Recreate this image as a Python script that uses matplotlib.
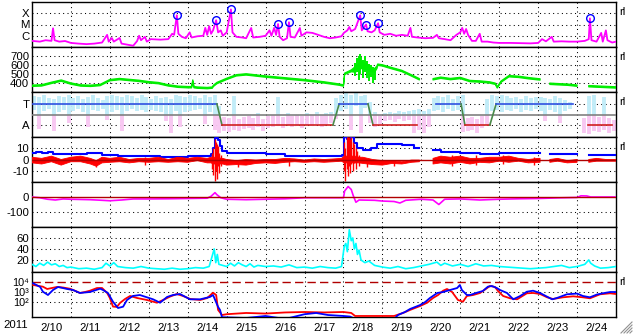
import numpy as np
import matplotlib
matplotlib.use('Agg')
import matplotlib.pyplot as plt
from matplotlib.lines import Line2D

plt.rcParams['font.family'] = ['Liberation Sans', 'DejaVu Sans']
nan = np.nan

# ---------------- data (time in days since 2011-02-10 00:00 UT) ----------------
day_labels = ['2/10', '2/11', '2/12', '2/13', '2/14', '2/15', '2/16', '2/17',
              '2/18', '2/19', '2/20', '2/21', '2/22', '2/23', '2/24']

# GOES X-ray flux (W/m^2)
xr_day = [0.00, 0.20, 0.35, 0.50, 0.54, 0.58, 0.70, 0.85, 1.00, 1.20, 1.40, 1.60, 1.80, 1.93, 1.97,
          2.05, 2.10, 2.25, 2.30, 2.50, 2.60, 2.70, 2.75, 2.80, 2.90, 2.95, 3.05, 3.30, 3.50, 3.60,
          3.65, 3.72, 3.76, 3.85, 3.95, 4.05, 4.10, 4.25, 4.40, 4.45, 4.50, 4.55, 4.60, 4.65, 4.73,
          4.78, 4.85, 4.90, 5.00, 5.11, 5.15, 5.25, 5.40, 5.50, 5.63, 5.68, 5.85, 6.00, 6.10, 6.15,
          6.22, 6.27, 6.32, 6.36, 6.45, 6.55, 6.60, 6.64, 6.75, 6.88, 6.92, 7.05, 7.20, 7.35, 7.50,
          7.65, 7.80, 7.95, 8.01, 8.10, 8.15, 8.20, 8.30, 8.43, 8.47, 8.52, 8.58, 8.62, 8.72, 8.80,
          8.89, 8.93, 9.05, 9.20, 9.35, 9.50, 9.65, 9.72, 9.76, 9.90, 10.10, 10.30, 10.40, 10.45, 10.60,
          10.75, 10.90, 11.00, 11.05, 11.10, 11.15, 11.20, 11.30, 11.40, 11.50, 11.55, 11.70, 11.85, 12.00,
          12.30, 12.60, 12.80, 13.00, 13.10, 13.20, 13.35, 13.40, 13.60, 13.80, 14.00, 14.20, 14.30, 14.33,
          14.37, 14.50, 14.62, 14.66, 14.74, 14.78, 14.90, 15.00]
xr_flux = [3.5e-7, 3.0e-7, 4.0e-7, 3.5e-7, 4.6e-6, 4.0e-7, 3.0e-7, 3.4e-7, 2.3e-7, 2.0e-7, 1.8e-7, 2.0e-7, 2.5e-7, 1.2e-6, 3.0e-7,
           6.3e-7, 3.0e-7, 6.3e-7, 2.0e-7, 1.5e-7, 1.3e-7, 3.4e-7, 1.0e-6, 4.0e-7, 8.0e-7, 3.0e-7, 5.0e-7, 4.5e-7, 5.0e-7, 1.5e-6,
           1.2e-6, 6.6e-5, 1.5e-6, 8.0e-7, 6.0e-7, 2.0e-6, 7.0e-7, 9.0e-7, 1.0e-6, 5.0e-6, 1.2e-6, 7.0e-6, 1.5e-6, 3.0e-6, 2.4e-5,
           2.0e-6, 3.0e-6, 1.0e-6, 2.0e-6, 2.2e-4, 2.0e-6, 8.0e-7, 7.0e-7, 6.0e-7, 4.9e-6, 7.0e-7, 8.0e-7, 1.0e-6, 3.0e-6, 1.0e-6,
           5.0e-6, 1.2e-6, 1.1e-5, 8.0e-7, 4.0e-7, 6.0e-7, 1.6e-5, 8.0e-7, 7.0e-7, 4.9e-6, 1.0e-6, 2.0e-6, 1.8e-6, 1.2e-6, 8.0e-7,
           6.0e-7, 7.0e-7, 9.0e-7, 1.8e-6, 3.0e-6, 6.0e-6, 2.5e-6, 4.0e-6, 6.6e-5, 3.0e-6, 5.0e-6, 1.0e-5, 2.5e-6, 2.0e-6, 3.0e-6,
           1.3e-5, 2.0e-6, 1.2e-6, 1.5e-6, 1.0e-6, 1.2e-6, 1.0e-6, 5.0e-6, 8.0e-7, 7.0e-7, 6.0e-7, 6.5e-7, 1.2e-6, 6.0e-7, 5.0e-7,
           4.0e-7, 1.2e-6, 2.0e-6, 5.0e-6, 1.5e-6, 4.0e-6, 1.2e-6, 3.5e-7, 3.5e-7, 1.5e-6, 3.0e-7, 3.0e-7, 2.5e-7, 2.3e-7,
           2.3e-7, 2.2e-7, 2.1e-7, 2.3e-7, 5.0e-7, 3.2e-7, 8.0e-7, 3.0e-7, 3.2e-7, 3.0e-7, 3.0e-7, 3.5e-7, 5.0e-7, 3.5e-5,
           4.0e-7, 3.0e-7, 1.8e-6, 3.0e-7, 3.0e-6, 4.0e-7, 2.5e-7, 3.0e-7]

# flares marked with circles
flare_day = [3.72, 4.73, 5.11, 6.32, 6.60, 8.43, 8.58, 8.89, 14.33]
flare_flux = [6.6e-5, 2.4e-5, 2.2e-4, 1.1e-5, 1.6e-5, 6.6e-5, 1.0e-5, 1.3e-5, 3.5e-5]

# solar wind speed (km/s): band low / high
sw_day = [0.0, 0.25, 0.5, 0.75, 1.0, 1.25, 1.5, 1.75, 2.0, 2.25, 2.5, 2.75, 3.0, 3.25, 3.5, 3.75, 4.0,
          4.1, 4.13, 4.16, 4.25, 4.5, 4.63, 4.66, 4.75, 5.0, 5.25, 5.5, 5.75, 6.0, 6.5, 7.0, 7.5, 7.9,
          8.0, 8.03, 8.2, 8.3, 8.4, 8.45, 8.5, 8.6, 8.7, 8.8, 8.86, 8.88, 9.0, 9.25, 9.5, 9.75, 9.95,
          9.96, 10.29, 10.3, 10.5, 10.75, 11.0, 11.25, 11.5, 11.75, 11.9, 11.95, 12.05, 12.25, 12.5, 12.75,
          13.0, 13.05, 13.06, 13.29, 13.3, 13.5, 13.75, 14.0, 14.01, 14.29, 14.3, 14.5, 14.75, 15.0]
sw_lo = [362, 366, 394, 419, 386, 365, 361, 370, 424, 436, 426, 416, 401, 391, 366, 351, 346,
         346, 420, 346, 341, 336, 341, 361, 392, 438, 478, 488, 476, 464, 444, 424, 399, 374,
         364, 495, 525, 520, 540, 560, 560, 540, 530, 520, 560, 596, 588, 556, 526, 476, 434,
         nan, nan, 434, 451, 436, 448, 414, 409, 399, 384, 344, 408, 468, 461, 446,
         434, 432, nan, nan, 384, 379, 374, 363, nan, nan, 357, 353, 348, 343]
sw_hi = [377, 381, 409, 434, 401, 380, 376, 385, 439, 451, 441, 431, 416, 406, 381, 366, 361,
         361, 435, 361, 356, 351, 356, 376, 407, 453, 493, 503, 491, 479, 459, 439, 414, 389,
         379, 510, 545, 580, 620, 640, 630, 610, 580, 560, 590, 611, 603, 571, 541, 491, 449,
         nan, nan, 449, 466, 451, 463, 429, 424, 414, 399, 359, 423, 483, 476, 461,
         449, 447, nan, nan, 399, 394, 389, 378, nan, nan, 372, 368, 363, 358]
# spiky excursions of the speed during the shock passage
sw_sp_day = [8.30, 8.35, 8.40, 8.43, 8.46, 8.50, 8.55, 8.60, 8.65, 8.70, 8.75, 8.80]
sw_sp_lo = [480, 520, 430, 500, 560, 450, 520, 460, 420, 470, 400, 430]
sw_sp_hi = [620, 680, 700, 720, 690, 650, 700, 640, 610, 600, 580, 560]

# IMF sector polarity (T = +1, A = -1)
sec_start = [0.0, 4.88, 7.89, 8.76, 10.38, 11.12, 11.92, 14.28]
sec_end = [4.75, 7.73, 8.63, 9.89, 11.02, 11.76, 13.90, 14.90]
sec_pol = [1, -1, 1, -1, 1, -1, 1, -1]

# IMF direction cloud, 3-hour bins (lo, hi in sector units)
imf_lo = [0.4, -1.4, 0.3, 0.5, -1.6, 0.2, 0.4, -0.8,
          0.3, 0.5, 0.2, -1.2, 0.4, 0.3, 0.5, -0.5,
          0.2, 0.4, -1.6, 0.3, 0.5, 0.3, 0.4, 0.2,
          0.4, 0.3, 0.2, -0.6, -1.8, 0.3, -1.2, 0.2,
          0.3, 0.4, 0.5, -0.9, 0.2, -1.5, -1.8, -1.6,
          -1.7, -1.5, -1.6, -1.4, -1.3, -1.5, -1.2, -1.6,
          -1.3, -1.2, -1.1, -1.3, -1.0, -1.2, -1.1, -1.3,
          -1.0, -1.1, -0.9, -1.2, -1.0, -0.8, -0.4, 0.3,
          0.5, -1.5, 0.8, -1.8, 0.6, -0.8, -1.2, -0.9,
          -0.6, -0.5, -0.7, -0.4, -0.6, -0.5, -1.8, -1.5,
          -1.8, -1.2, 0.3, 0.4, 0.2, 0.5, 0.3, 0.4,
          -1.7, -1.6, -1.5, -1.8, -1.3, -1.0, 0.3, 0.4,
          0.2, 0.4, 0.3, 0.5, 0.2, 0.4, 0.3, 0.5,
          0.3, -0.6, 0.4, 0.2, -0.8, 0.3, 0.5, nan,
          nan, -1.8, -1.9, -1.6, -1.7, -1.5, -1.8, -1.6]
imf_hi = [1.8, 1.7, 1.9, 1.6, 1.5, 1.8, 1.7, 1.9,
          1.6, 1.8, 1.5, 1.7, 1.9, 1.6, 1.4, 1.8,
          1.9, 1.8, 1.7, 1.9, 1.8, 1.6, 1.9, 1.7,
          1.5, 1.8, 1.6, 1.7, 1.5, 1.9, 1.8, 1.7,
          1.9, 1.8, 1.6, 1.9, 1.7, 1.9, 0.8, -0.2,
          -0.3, 1.8, -0.4, -0.2, -0.1, -0.3, 0.1, -0.4,
          -0.1, 0.0, 1.7, -0.2, 0.1, -0.1, 0.0, -0.1,
          0.1, 0.0, 0.2, 0.0, 0.1, 0.2, 1.6, 1.9,
          2.0, 1.9, 2.0, 1.8, 1.9, 1.2, 0.2, 0.0,
          0.1, 0.2, 0.1, 0.3, 0.2, 0.3, 0.4, 0.5,
          0.3, 0.5, 1.6, 1.8, 1.7, 1.9, 1.5, 1.8,
          1.9, -0.3, -0.2, -0.4, -0.1, 1.5, 1.9, 1.8,
          1.9, 1.8, 1.6, 1.7, 1.5, 1.8, 1.6, 1.7,
          1.7, 1.6, 1.5, 1.8, 1.6, 1.4, 1.2, nan,
          nan, -0.3, 1.8, 1.9, -0.2, 1.7, -0.3, -0.5]

# IMF Bt (nT)
bt_day = [0.0, 0.1, 0.25, 0.4, 0.55, 1.0, 1.4, 1.8, 2.2, 2.6, 3.0, 3.3, 3.8, 4.0, 4.5, 4.6, 4.65, 4.7,
          4.78, 4.82, 4.88, 5.0, 5.5, 6.0, 6.5, 7.0, 7.5, 7.95, 8.02, 8.1, 8.2, 8.28, 8.35, 8.5, 8.7,
          8.85, 9.0, 9.5, 9.8, 9.95, 10.3, 10.5, 11.0, 11.5, 12.0, 12.5, 13.0, 13.05, 13.3, 14.0, 14.3, 15.0]
bt_val = [5.5, 6.5, 6.0, 6.5, 5.0, 4.5, 5.5, 4.0, 3.5, 3.0, 3.0, 2.2, 2.5, 3.0, 3.5, 5.0, 10.0, 19.0,
          17.0, 12.0, 8.0, 6.0, 6.0, 5.0, 3.5, 3.0, 3.0, 4.0, 20.0, 18.0, 20.0, 15.0, 10.0, 8.5, 10.0,
          13.5, 14.0, 12.5, 10.0, nan, 8.5, 6.5, 5.5, 5.0, 5.5, 6.0, 5.5, nan, 5.0, nan, 4.0, 4.0]

# IMF Bz (nT): band low / high
bz_day = [0.0, 0.25, 0.5, 0.75, 1.0, 1.25, 1.5, 1.65, 1.8, 2.0, 2.25, 2.5, 2.75, 3.0, 3.25, 3.5, 3.75,
          4.0, 4.25, 4.5, 4.6, 4.65, 4.7, 4.75, 4.8, 4.85, 4.9, 5.0, 5.25, 5.5, 5.75, 6.0, 6.25, 6.5,
          6.75, 7.0, 7.25, 7.5, 7.75, 7.95, 8.02, 8.1, 8.2, 8.3, 8.4, 8.5, 8.75, 9.0, 9.25, 9.5, 9.75,
          9.95, 9.96, 10.29, 10.3, 10.5, 10.75, 11.0, 11.25, 11.5, 11.75, 12.0, 12.25, 12.5, 12.75, 13.0,
          13.05, 13.06, 13.29, 13.3, 13.5, 13.75, 14.0, 14.01, 14.29, 14.3, 14.5, 14.75, 15.0]
bz_lo = [-3, -4, -2, -5, -2, -2, -4, -6, -3, -2.5, -2, -3, -2, -2.5, -2, -2.5, -2,
         -2.5, -1, -3, -3, -4, -4, -4, -4, -4, -4, -5, -4.5, -5, -3.5, -3, -3.5, -2.5,
         -2, -2.5, -2, -2.5, -2, -1.5, -3, -3, -3, -3, -3, -3.5, -4.5, -5, -3.5, -4, -2.5,
         -2, nan, nan, -4, -3, -4, -2.5, -4, -2.5, -3, -1.5, -2.5, -1.5, -3, -2.5,
         -2.5, nan, nan, -2.5, -1.5, -3, -2.5, nan, nan, -2.5, -1.5, -1.5, -1.5]
bz_hi = [2, 1, 3, 0, 2, 3, 1, -1, 2, 1, 2, 0, 1, 1, 2, 0, 2,
         1, 2, 1, 2, 2, 2, 2, 2, 1, 1, 0, -1, 0, -0.5, 0, 0, 1,
         0.5, -0.5, 0.5, 0, 0.5, 1, 3, 3, 3, 3, 2, 2, 0, -1, -1, -2, -0.5,
         -0.5, nan, nan, 1, 3, 2, 3, 1, 1, 2, 2, 3, 1, 0, 1,
         1, nan, nan, 0, 1, -1, 0, nan, nan, 0, 1, 0, 0]
# Bz excursions (spikes)
bz_sp_day = [1.65, 2.9, 4.62, 4.66, 4.69, 4.72, 4.75, 4.78, 4.81, 4.85, 5.3, 6.6,
             8.02, 8.05, 8.08, 8.11, 8.14, 8.17, 8.20, 8.24, 8.28, 8.32, 8.36, 8.40,
             8.6, 9.3, 10.8, 11.4, 12.1, 12.9]
bz_sp_lo = [-7, -5, -8, -14, -19, -10, -17, -6, -12, -6, -7, -6,
            -10, -19, -8, -15, -6, -12, -4, -10, -3, -8, -2, -6,
            -7, -6, -6, -5, -4, -5]
bz_sp_hi = [0, 2, 6, 10, 18, 16, 14, 12, 6, 4, 0, 1,
            16, 10, 20, 20, 20, 18, 20, 16, 14, 10, 8, 4,
            0, 0, 4, 4, 4, 2]

# Dst-like index (nT)
dst_day = [0.0, 0.2, 0.4, 0.6, 0.8, 1.0, 1.5, 1.8, 2.0, 2.3, 2.6, 3.0, 3.5, 4.0, 4.5, 4.6, 4.7, 4.75,
           4.85, 5.0, 5.5, 6.0, 6.5, 7.0, 7.5, 8.0, 8.03, 8.12, 8.2, 8.25, 8.32, 8.4, 8.8, 9.0, 9.3,
           9.45, 9.6, 10.0, 10.3, 10.45, 10.6, 11.0, 11.5, 12.0, 12.5, 13.0, 13.5, 14.0, 14.1, 14.25,
           14.35, 15.0]
dst_val = [0, -5, -15, -20, -13, -15, -18, -22, -25, -20, -13, -13, -12, -10, -8, 5, 29, 15,
           -5, -15, -18, -15, -12, -5, -5, -5, 40, 70, 50, 10, -35, -20, -22, -27, -30,
           -40, -22, -15, -20, -50, -15, -13, -20, -15, -12, -10, -6, -3, 8, 7,
           0, 0]

# cyan index
cy_day = [0.0, 0.1, 0.2, 0.3, 0.4, 0.5, 0.6, 0.7, 0.8, 0.9, 1.0, 1.2, 1.4, 1.6, 1.8, 1.9, 2.0, 2.1,
          2.2, 2.4, 2.6, 2.8, 3.0, 3.2, 3.4, 3.6, 3.8, 4.0, 4.2, 4.4, 4.55, 4.62, 4.68, 4.72, 4.76,
          4.8, 4.9, 5.0, 5.1, 5.2, 5.3, 5.4, 5.5, 5.6, 5.7, 5.8, 6.0, 6.2, 6.4, 6.6, 6.8, 7.0, 7.2,
          7.4, 7.6, 7.8, 7.95, 8.02, 8.06, 8.1, 8.15, 8.2, 8.24, 8.28, 8.32, 8.36, 8.4, 8.45, 8.55,
          8.65, 8.8, 9.0, 9.2, 9.4, 9.6, 9.8, 10.0, 10.2, 10.4, 10.5, 10.6, 10.8, 11.0, 11.2, 11.4,
          11.6, 11.8, 12.0, 12.2, 12.4, 12.6, 12.8, 13.0, 13.2, 13.4, 13.6, 13.8, 14.0, 14.2, 14.3,
          14.35, 14.45, 14.6, 14.8, 15.0]
cy_val = [12, 8, 14, 10, 16, 11, 13, 8, 10, 6, 7, 4, 5, 3, 6, 14, 9, 15,
          8, 6, 5, 8, 5, 4, 3, 5, 3, 4, 6, 5, 8, 25, 40, 15, 30,
          12, 10, 8, 14, 9, 15, 11, 8, 13, 7, 10, 8, 9, 7, 11, 6, 7, 5,
          8, 6, 5, 8, 45, 50, 35, 75, 55, 60, 40, 50, 30, 38, 20, 15,
          18, 10, 7, 5, 8, 4, 6, 9, 12, 16, 10, 14, 9, 12, 8, 13,
          9, 10, 8, 7, 6, 5, 4, 5, 6, 8, 10, 6, 8, 12, 20,
          14, 9, 5, 6, 8]

# energetic electron flux, two satellites
el_red_day = [0.03, 0.28, 0.39, 0.51, 0.64, 0.80, 0.98, 1.16, 1.23, 1.36, 1.49, 1.67, 1.80, 1.93, 2.0,
              2.08, 2.18, 2.26, 2.39, 2.52, 2.70, 2.95, 3.21, 3.37, 3.54, 3.72, 3.88, 4.06, 4.32, 4.50,
              4.65, 4.73, 4.78, 4.88, 5.0, 5.5, 6.0, 6.5, 7.0, 7.5, 8.0, 8.2, 8.3, 9.0, 9.3, 9.53,
              9.71, 9.97, 10.15, 10.30, 10.43, 10.56, 10.66, 10.79, 10.94, 11.07, 11.17, 11.33, 11.51,
              11.69, 11.76, 11.89, 11.97, 12.10, 12.28, 12.46, 12.71, 12.87, 13.05, 13.23, 13.38, 13.64,
              13.90, 14.15, 14.33, 14.59, 14.85, 15.0]
el_red = [5000, 3400, 2000, 2500, 3200, 2800, 2100, 1070, 800, 1000, 1350, 2500, 2500, 800, 250,
          35, 32, 80, 200, 400, 250, 160, 85, 160, 340, 630, 400, 200, 160, 250,
          850, 500, 16, 5, 6, 8, 7, 9, 10, 9, 10, 8, 4, 4, 4, 8,
          16, 40, 85, 250, 500, 1350, 2000, 1000, 160, 107, 400, 500, 800,
          2500, 4000, 3200, 1260, 400, 234, 186, 740, 800, 630, 295, 200, 295,
          370, 295, 234, 590, 740, 630]
el_blue_day = [0.03, 0.21, 0.28, 0.41, 0.54, 0.67, 0.90, 1.05, 1.23, 1.49, 1.75, 1.82, 1.95, 2.08,
               2.21, 2.34, 2.44, 2.59, 2.77, 3.11, 3.29, 3.47, 3.62, 3.80, 4.06, 4.32, 4.57, 4.65, 4.78,
               4.83, 4.88, 5.5, 6.0, 6.5, 7.0, 7.3, 7.6, 8.0, 8.17, 8.3, 9.3, 9.4, 9.58, 9.71, 9.97,
               10.1, 10.22, 10.41, 10.56, 10.74, 10.92, 10.99, 11.04, 11.17, 11.25, 11.43, 11.58,
               11.71, 11.81, 11.94, 12.02, 12.20, 12.36, 12.54, 12.71, 12.87, 13.05, 13.23, 13.36,
               13.48, 13.74, 14.0, 14.15, 14.33, 14.51, 14.66, 14.85, 15.0]
el_blue = [7400, 3200, 1070, 500, 1600, 3200, 2000, 1600, 800, 1000, 2150, 1600, 800, 107,
           25, 34, 160, 400, 500, 186, 85, 320, 500, 630, 186, 186, 320, 500, 32,
           16, 3, 2.5, 4, 2, 6, 8, 5, 4, 3.5, 2, 2, 5, 10, 20, 50,
           100, 250, 800, 1000, 1600, 2500, 5000, 1600, 500, 500, 850, 1260,
           3400, 4000, 2500, 1600, 800, 186, 400, 1070, 1350, 800, 340, 186,
           250, 590, 700, 400, 295, 560, 740, 1000, 1000]

# ---------------- figure ----------------
W, H = 633, 334
fig = plt.figure(figsize=(W / 100, H / 100), dpi=100)
L, R = 32, 616
PH = 45
FS = 8.2
GRID = dict(color='black', lw=0.75, ls=(0, (1, 3.2)), zorder=1)
DKRED = '#b00000'

axes = []
for i in range(7):
    top = 2 + PH * i
    ax = fig.add_axes([L / W, 1 - (top + PH) / H, (R - L) / W, PH / H])
    ax.set_xlim(0, 15)
    for s in ax.spines.values():
        s.set_linewidth(1.0)
        s.set_color('black')
    ax.tick_params(axis='both', length=0, labelsize=FS, pad=2)
    ax.set_xticks([])
    for d in range(1, 15):
        ax.axvline(d, **GRID)
    axes.append(ax)


def rl(ax):
    ax.text(1.006, 1 - 10 / PH, 'rl', transform=ax.transAxes, fontsize=FS, va='center', ha='left')


# panel 1: X-ray
ax = axes[0]
ax.set_yscale('log')
ax.set_ylim(1e-7, 1e-3)
ax.yaxis.set_minor_locator(matplotlib.ticker.NullLocator())
ax.set_yticks([1e-4, 1e-5, 1e-6], ['X', 'M', 'C'])
for v in [1e-4, 1e-5, 1e-6]:
    ax.axhline(v, **GRID)
ax.plot(xr_day, xr_flux, color='#ff00ff', lw=1.3, zorder=3)
ax.plot(flare_day, flare_flux, 'o', mfc='none', mec='#0000ff', mew=1.0, ms=5.5, zorder=4)
rl(ax)

# panel 2: solar wind speed
ax = axes[1]
ax.set_ylim(300, 800)
ax.set_yticks([400, 500, 600, 700], ['400', '500', '600', '700'])
for v in [400, 500, 600, 700]:
    ax.axhline(v, **GRID)
ax.fill_between(sw_day, sw_lo, sw_hi, color='#00ee00', lw=0.9, edgecolor='#00ee00', zorder=3)
ax.vlines(sw_sp_day, sw_sp_lo, sw_sp_hi, color='#00ee00', lw=1.4, zorder=3)
rl(ax)

# panel 3: sector polarity
ax = axes[2]
ax.set_ylim(-2.14, 2.14)
ax.set_yticks([1, -1], ['T', 'A'])
for v in [1, -1]:
    ax.axhline(v, **GRID)
imf_day = np.arange(len(imf_lo)) * 0.125 + 0.0625
for d, lo, hi in zip(imf_day, imf_lo, imf_hi):
    if np.isnan(lo):
        continue
    if hi > 0:
        ax.plot([d, d], [max(lo, 0), hi], color='#c2ecf8', lw=2.8, solid_capstyle='butt', zorder=2)
    if lo < 0:
        ax.plot([d, d], [lo, min(hi, 0)], color='#f8c8f2', lw=2.8, solid_capstyle='butt', zorder=2)
ax.axhline(0, color='#808080', lw=1.2, zorder=3)
for k in range(len(sec_start)):
    c = '#3050e0' if sec_pol[k] > 0 else '#d02020'
    ax.plot([sec_start[k], sec_end[k]], [sec_pol[k], sec_pol[k]], color=c, lw=1.2, zorder=4)
    if k + 1 < len(sec_start) and sec_start[k + 1] - sec_end[k] < 0.3:
        ax.plot([sec_end[k], sec_start[k + 1]], [sec_pol[k], sec_pol[k + 1]], color='#4a8a4a', lw=1.2, zorder=4)
rl(ax)

# panel 4: IMF
ax = axes[3]
ax.set_ylim(-20, 20)
ax.set_yticks([10, 0, -10], ['10', '0', '-10'])
for v in [10, -10]:
    ax.axhline(v, **GRID)
ax.plot(bt_day, bt_val, color='#0000ff', lw=1.5, drawstyle='steps-post', zorder=3)
ax.fill_between(bz_day, bz_lo, bz_hi, color='#ff0000', lw=0.6, edgecolor='#ff0000', zorder=4)
ax.vlines(bz_sp_day, bz_sp_lo, bz_sp_hi, color='#ff0000', lw=1.0, zorder=4)
ax.axhline(0, color=DKRED, lw=1.0, zorder=5)
rl(ax)

# panel 5: Dst
ax = axes[4]
ax.set_ylim(-200, 100)
ax.set_yticks([0, -100], ['0', '-100'])
ax.axhline(-100, **GRID)
ax.plot(dst_day, dst_val, color='#ff00ff', lw=1.2, zorder=3)
ax.axhline(0, color=DKRED, lw=1.0, zorder=4)

# panel 6: cyan index
ax = axes[5]
ax.set_ylim(-2, 80)
ax.set_yticks([60, 40, 20], ['60', '40', '20'])
for v in [20, 40, 60]:
    ax.axhline(v, **GRID)
ax.plot(cy_day, cy_val, color='#00ffff', lw=1.2, zorder=3)

# panel 7: electrons
ax = axes[6]
ax.set_yscale('log')
ax.set_ylim(10 ** 0.5, 10 ** 5)
ax.yaxis.set_minor_locator(matplotlib.ticker.NullLocator())
ax.set_yticks([1e4, 1e3, 1e2], ['10⁴', '10³', '10²'])
ax.tick_params(axis='y', labelsize=7.8)
for v in [1e3, 1e2]:
    ax.axhline(v, **GRID)
ax.axhline(1e4, color=DKRED, lw=1.0, ls=(0, (6, 3)), zorder=2)
ax.plot(el_red_day, el_red, color='#ff0000', lw=1.3, zorder=3)
ax.plot(el_blue_day, el_blue, color='#0000ff', lw=1.3, zorder=4)
ax.set_xticks(np.arange(15) + 0.5, day_labels)
ax.tick_params(axis='x', length=0, labelsize=FS, pad=4)
rl(ax)

fig.text(16 / W, 1 - 325 / H, '2011', fontsize=FS, ha='center', va='center')

# resize grip
for k in range(4):
    off = 3 * k
    fig.add_artist(Line2D([(621 + off) / W, 632 / W], [1 / H, (12 - off) / H],
                          color='#909090', lw=0.8))

fig.savefig('out.png', dpi=100)
